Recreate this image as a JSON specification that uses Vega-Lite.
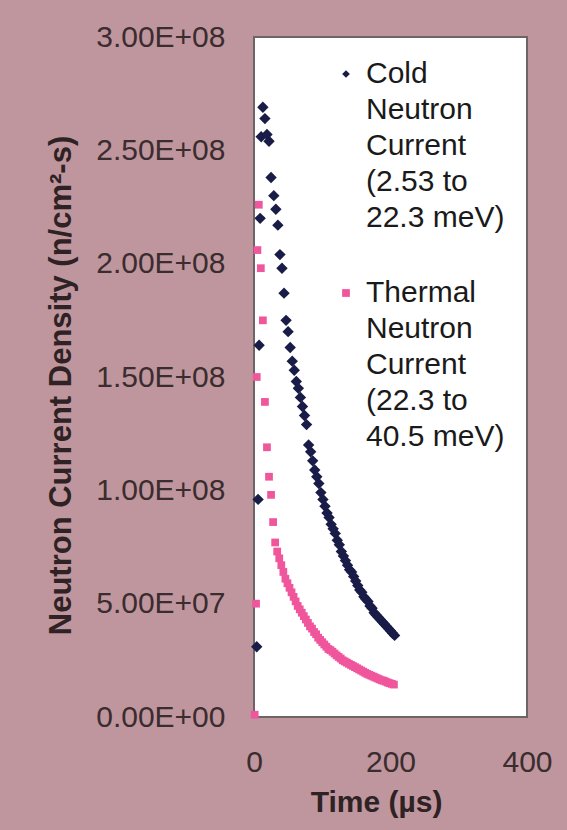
{
  "$schema": "https://vega.github.io/schema/vega-lite/v6.json",
  "autosize": {"type": "none"},
  "width": 273,
  "height": 680,
  "padding": {"left": 254, "top": 37, "right": 40, "bottom": 113},
  "background": "#bf969d",
  "config": {
    "font": "Liberation Sans",
    "view": {"fill": "#ffffff", "stroke": "#6e6466", "strokeWidth": 2},
    "style": {"guide-label": {"lineHeight": 36, "dy": -15}}
  },
  "datasets": {
    "cold": [
      {"t": 4, "v": 31000000}, {"t": 6, "v": 96000000}, {"t": 7.5, "v": 164000000}, {"t": 9, "v": 220000000},
      {"t": 10.5, "v": 256000000}, {"t": 13, "v": 269000000}, {"t": 16, "v": 264000000}, {"t": 19, "v": 257000000},
      {"t": 22, "v": 254000000}, {"t": 25, "v": 238000000}, {"t": 29, "v": 230000000}, {"t": 32, "v": 224000000},
      {"t": 35, "v": 217000000}, {"t": 38, "v": 204000000}, {"t": 41, "v": 198000000}, {"t": 44, "v": 187000000},
      {"t": 47, "v": 175000000}, {"t": 50, "v": 170000000}, {"t": 53, "v": 163000000}, {"t": 56, "v": 157000000},
      {"t": 59, "v": 153000000}, {"t": 62, "v": 148000000}, {"t": 65, "v": 145000000}, {"t": 68, "v": 141000000},
      {"t": 71, "v": 137000000}, {"t": 74, "v": 133000000}, {"t": 77, "v": 129000000}, {"t": 80, "v": 120000000},
      {"t": 83, "v": 117000000}, {"t": 86, "v": 113000000}, {"t": 89, "v": 109000000}, {"t": 92, "v": 106000000},
      {"t": 95, "v": 103000000}, {"t": 98, "v": 99000000}, {"t": 101, "v": 96000000}, {"t": 104, "v": 93000000},
      {"t": 107, "v": 90000000}, {"t": 110, "v": 88000000}, {"t": 113, "v": 85000000}, {"t": 116, "v": 83000000},
      {"t": 119, "v": 81000000}, {"t": 122, "v": 78000000}, {"t": 125, "v": 76000000}, {"t": 128, "v": 73000000},
      {"t": 131, "v": 71000000}, {"t": 134, "v": 69000000}, {"t": 137, "v": 67000000}, {"t": 140, "v": 65000000},
      {"t": 143, "v": 64000000}, {"t": 146, "v": 62000000}, {"t": 149, "v": 60000000}, {"t": 152, "v": 58000000},
      {"t": 155, "v": 56000000}, {"t": 158, "v": 55000000}, {"t": 161, "v": 53000000}, {"t": 164, "v": 52000000},
      {"t": 167, "v": 51000000}, {"t": 170, "v": 49000000}, {"t": 173, "v": 48000000}, {"t": 176, "v": 46000000},
      {"t": 179, "v": 45000000}, {"t": 182, "v": 44000000}, {"t": 185, "v": 43000000}, {"t": 188, "v": 42000000},
      {"t": 191, "v": 41000000}, {"t": 194, "v": 40000000}, {"t": 197, "v": 39000000}, {"t": 200, "v": 38000000},
      {"t": 203, "v": 37000000}, {"t": 206, "v": 36000000}
    ],
    "thermal": [
      {"t": 1, "v": 1000000}, {"t": 3, "v": 50000000}, {"t": 4, "v": 150000000}, {"t": 5, "v": 206000000},
      {"t": 7, "v": 226000000}, {"t": 10, "v": 198000000}, {"t": 13, "v": 175000000}, {"t": 16, "v": 139000000},
      {"t": 19, "v": 119000000}, {"t": 22, "v": 106000000}, {"t": 25, "v": 98000000}, {"t": 28, "v": 86000000},
      {"t": 31, "v": 77000000}, {"t": 34, "v": 73000000}, {"t": 37, "v": 70000000}, {"t": 40, "v": 67000000},
      {"t": 43, "v": 64000000}, {"t": 46, "v": 61000000}, {"t": 49, "v": 59000000}, {"t": 52, "v": 57000000},
      {"t": 55, "v": 55000000}, {"t": 58, "v": 53000000}, {"t": 61, "v": 51000000}, {"t": 64, "v": 49000000},
      {"t": 67, "v": 47500000}, {"t": 70, "v": 46000000}, {"t": 73, "v": 44500000}, {"t": 76, "v": 43000000},
      {"t": 79, "v": 41500000}, {"t": 82, "v": 40000000}, {"t": 85, "v": 39000000}, {"t": 88, "v": 37500000},
      {"t": 91, "v": 36500000}, {"t": 94, "v": 35000000}, {"t": 97, "v": 34000000}, {"t": 100, "v": 33000000},
      {"t": 103, "v": 32000000}, {"t": 106, "v": 31000000}, {"t": 109, "v": 30000000}, {"t": 112, "v": 29500000},
      {"t": 115, "v": 28800000}, {"t": 118, "v": 28000000}, {"t": 121, "v": 27200000}, {"t": 124, "v": 26500000},
      {"t": 127, "v": 25800000}, {"t": 130, "v": 25000000}, {"t": 133, "v": 24500000}, {"t": 136, "v": 24000000},
      {"t": 139, "v": 23500000}, {"t": 142, "v": 23000000}, {"t": 145, "v": 22500000}, {"t": 148, "v": 22000000},
      {"t": 151, "v": 21500000}, {"t": 154, "v": 21000000}, {"t": 157, "v": 20500000}, {"t": 160, "v": 20000000},
      {"t": 163, "v": 19500000}, {"t": 166, "v": 19000000}, {"t": 169, "v": 18600000}, {"t": 172, "v": 18200000},
      {"t": 175, "v": 17800000}, {"t": 178, "v": 17400000}, {"t": 181, "v": 17000000}, {"t": 184, "v": 16600000},
      {"t": 187, "v": 16200000}, {"t": 190, "v": 16000000}, {"t": 193, "v": 15600000}, {"t": 196, "v": 15200000},
      {"t": 199, "v": 14900000}, {"t": 202, "v": 14600000}, {"t": 205, "v": 14300000}
    ]
  },
  "layer": [
    {
      "data": {"name": "thermal"},
      "transform": [{"calculate": "'Thermal'", "as": "series"}],
      "mark": {"type": "point", "filled": true, "opacity": 1},
      "encoding": {
        "x": {
          "field": "t", "type": "quantitative",
          "scale": {"domain": [0, 400], "nice": false},
          "axis": {
            "title": "Time (µs)", "values": [0, 200, 400], "grid": false, "domain": false, "ticks": false, "labelFlush": false,
            "labelFont": "Liberation Sans", "labelFontSize": 30, "labelColor": "#3a2c2f", "labelPadding": 45,
            "titleFont": "Liberation Sans", "titleFontSize": 30, "titleFontWeight": "bold", "titleColor": "#2e2224", "titlePadding": 10,
            "titleX": 122
          }
        },
        "y": {
          "field": "v", "type": "quantitative",
          "scale": {"domain": [0, 300000000], "nice": false},
          "axis": {
            "title": "Neutron Current Density (n/cm²-s)",
            "values": [0, 50000000, 100000000, 150000000, 200000000, 250000000, 300000000],
            "labelExpr": "upper(replace(format(datum.value, '.2e'), regexp('e\\\\+(\\\\d)$'), 'e+0$1'))",
            "grid": false, "domain": false, "ticks": false,
            "labelFont": "Liberation Sans", "labelFontSize": 30, "labelColor": "#3a2c2f", "labelPadding": 29, "labelOffset": 15,
            "titleFont": "Liberation Sans", "titleFontSize": 31, "titleFontWeight": "bold", "titleColor": "#2e2224", "titlePadding": 18,
            "titleLimit": 800, "titleY": 348
          }
        },
        "color": {
          "field": "series", "type": "nominal",
          "scale": {"domain": ["Cold", "Thermal"], "range": ["#1a1c48", "#f0569c"]},
          "legend": {
            "title": null, "orient": "none", "legendX": 77, "legendY": 22,
            "labelExpr": "datum.label == 'Cold' ? ['Cold', 'Neutron', 'Current', '(2.53 to', '22.3 meV)'] : ['Thermal', 'Neutron', 'Current', '(22.3 to', '40.5 meV)']",
            "labelFont": "Liberation Sans", "labelFontSize": 30, "labelColor": "#1a1a1a", "labelLimit": 300,
            "labelBaseline": "top",
            "symbolSize": 60, "rowPadding": 45, "labelOffset": 5
          }
        },
        "shape": {
          "field": "series", "type": "nominal",
          "scale": {"domain": ["Cold", "Thermal"], "range": ["diamond", "square"]},
          "legend": {
            "title": null, "orient": "none", "legendX": 77, "legendY": 22,
            "labelExpr": "datum.label == 'Cold' ? ['Cold', 'Neutron', 'Current', '(2.53 to', '22.3 meV)'] : ['Thermal', 'Neutron', 'Current', '(22.3 to', '40.5 meV)']",
            "labelFont": "Liberation Sans", "labelFontSize": 30, "labelColor": "#1a1a1a", "labelLimit": 300,
            "labelBaseline": "top",
            "symbolSize": 60, "rowPadding": 45, "labelOffset": 5
          }
        },
        "size": {"value": 60}
      }
    },
    {
      "data": {"name": "cold"},
      "transform": [{"calculate": "'Cold'", "as": "series"}],
      "mark": {"type": "point", "filled": true, "opacity": 1},
      "encoding": {
        "x": {"field": "t", "type": "quantitative"},
        "y": {"field": "v", "type": "quantitative"},
        "color": {"field": "series", "type": "nominal"},
        "shape": {"field": "series", "type": "nominal"},
        "size": {"value": 130}
      }
    }
  ]
}
